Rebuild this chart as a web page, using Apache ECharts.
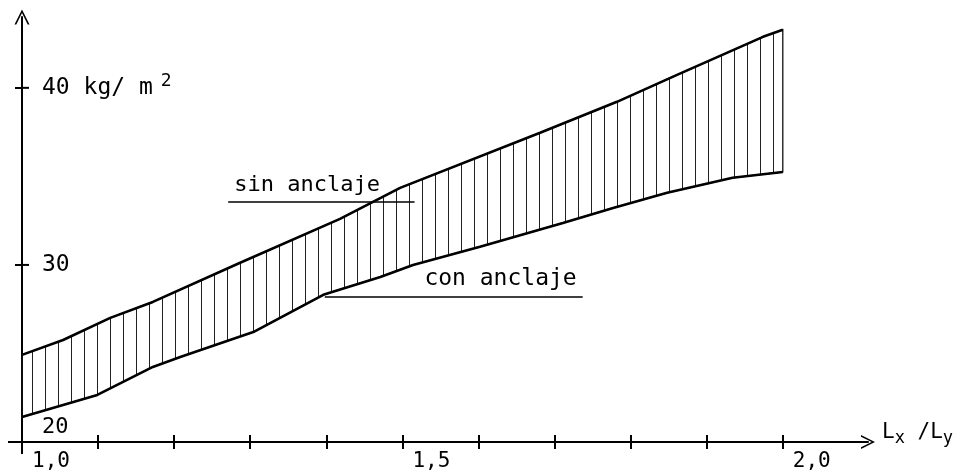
<!DOCTYPE html>
<html><head><meta charset="utf-8">
<script src="https://cdn.jsdelivr.net/npm/echarts@6/dist/echarts.min.js"></script>
<style>html,body{margin:0;padding:0;background:#fff}#c{width:967px;height:472px}</style>
</head><body><div id="c"></div>
<script>
// ---- data ----
const upperX = [1.000, 1.054, 1.116, 1.172, 1.286, 1.418, 1.497, 1.681, 1.782, 1.861, 1.974, 2.000];
const upperY = [24.92, 25.76, 27.01, 27.91, 30.11, 32.60, 34.35, 37.46, 39.21, 40.73, 42.88, 43.28];
const lowerX = [1.000, 1.099, 1.172, 1.208, 1.304, 1.396, 1.471, 1.514, 1.602, 1.711, 1.777, 1.848, 1.934, 2.000];
const lowerY = [21.41, 22.66, 24.24, 24.80, 26.21, 28.31, 29.32, 30.00, 31.02, 32.37, 33.22, 34.07, 34.92, 35.25];
const xTickValues = [1.0, 1.1, 1.2, 1.3, 1.4, 1.5, 1.6, 1.7, 1.8, 1.9, 2.0];
const xLabelValues = [1.0, 1.5, 2.0];
const yTickValues = [30, 40];
const yLabelValues = [20, 30, 40];
const sinText = 'sin anclaje';
const sinLineX = [1.271, 1.516];
const sinLineY = 33.56;
const conText = 'con anclaje';
const conLineX = [1.398, 1.737];
const conLineY = 28.19;

// ---- styling ----
const FONT = 'DejaVu Sans Mono';
const hatch = document.createElement('canvas');
hatch.width = 13; hatch.height = 4;
const hctx = hatch.getContext('2d');
hctx.fillStyle = '#222';
hctx.fillRect(6, 0, 1, 4);
const chevron = 'path://M5,0L10,10L8.8,10L5,2.4L1.2,10L0,10Z';

const upperData = upperX.map((x, i) => [x, upperY[i]]);
const lowerData = lowerX.map((x, i) => [x, lowerY[i]]);

const chart = echarts.init(document.getElementById('c'), null, {renderer: 'canvas'});
const xMin = 1.0, xMax = 2.112, yMin = 20, yMax = 44;

const option = {
  animation: false,
  backgroundColor: '#fff',
  grid: {left: 22, right: 99, top: 17, bottom: 30, containLabel: false},
  xAxis: [{
    type: 'value', min: xMin, max: xMax, position: 'bottom',
    name: '{L|L}{s|x}{L| /L}{s|y}', nameLocation: 'end', nameGap: 14,
    nameTextStyle: {padding: [0, 0, 18, 0], rich: {
      L: {fontFamily: FONT, fontSize: 21, color: '#000'},
      s: {fontFamily: FONT, fontSize: 17, color: '#000', padding: [12, 0, 0, 0]}
    }},
    axisLine: {show: true, lineStyle: {color: '#000', width: 2}, symbol: ['none', chevron], symbolSize: [14, 14]},
    axisTick: {show: true, length: 7, lineStyle: {color: '#000', width: 2}, customValues: xTickValues},
    axisLabel: {show: true, customValues: xLabelValues, align: 'left', margin: 9, padding: [0, 0, 0, 10],
      fontFamily: FONT, fontSize: 21, color: '#000',
      formatter: v => v.toFixed(1).replace('.', ',')},
    splitLine: {show: false}
  }, {
    type: 'value', min: xMin, max: xMax, position: 'bottom', offset: 0,
    axisLine: {show: false},
    axisTick: {show: true, inside: true, length: 7, lineStyle: {color: '#000', width: 2}, customValues: xTickValues},
    axisLabel: {show: false}, splitLine: {show: false}
  }],
  yAxis: {
    type: 'value', min: yMin, max: yMax, position: 'left',
    axisLine: {show: true, lineStyle: {color: '#000', width: 2}, symbol: ['none', chevron], symbolSize: [15, 16]},
    axisTick: {show: true, length: 7, lineStyle: {color: '#000', width: 2}, customValues: yTickValues},
    axisLabel: {show: true, inside: true, margin: 20, customValues: yLabelValues,
      formatter: v => v === 40 ? '{n|40 kg/ m}{sup|2}' : (v === 20 ? '{low|20}' : '{n|30}'),
      rich: {
        n: {fontFamily: FONT, fontSize: 23, color: '#000'},
        sup: {fontFamily: FONT, fontSize: 18, color: '#000', padding: [0, 0, 14, 8]},
        low: {fontFamily: FONT, fontSize: 22, color: '#000', padding: [0, 0, 30, 0]}
      }},
    splitLine: {show: false}
  },
  series: [{
    type: 'custom', xAxisIndex: 0, yAxisIndex: 0, silent: true, z: 1,
    data: [[xMin, yMin]],
    renderItem: function (params, api) {
      const pts = upperData.map(p => api.coord(p)).concat(lowerData.slice().reverse().map(p => api.coord(p)));
      return {type: 'polygon', shape: {points: pts},
        style: {fill: {image: hatch, repeat: 'repeat'}, stroke: '#111', lineWidth: 1.3}};
    }
  }, {
    type: 'line', name: 'sin anclaje', xAxisIndex: 0, yAxisIndex: 0, data: upperData,
    symbol: 'none', z: 3, lineStyle: {color: '#000', width: 2.6},
    markLine: {silent: true, symbol: ['none', 'none'], animation: false,
      lineStyle: {type: 'solid', color: '#000', width: 1.5},
      label: {show: true, position: 'insideStartTop', distance: 6, formatter: sinText,
        fontFamily: FONT, fontSize: 22, color: '#000'},
      data: [[{coord: [sinLineX[0], sinLineY]}, {coord: [sinLineX[1], sinLineY]}]]}
  }, {
    type: 'line', name: 'con anclaje', xAxisIndex: 0, yAxisIndex: 0, data: lowerData,
    symbol: 'none', z: 3, lineStyle: {color: '#000', width: 2.6},
    markLine: {silent: true, symbol: ['none', 'none'], animation: false,
      lineStyle: {type: 'solid', color: '#000', width: 1.5},
      label: {show: true, position: 'insideEndTop', distance: 6, formatter: conText,
        fontFamily: FONT, fontSize: 23, color: '#000'},
      data: [[{coord: [conLineX[0], conLineY]}, {coord: [conLineX[1], conLineY]}]]}
  }]
};
chart.setOption(option);

const o = chart.convertToPixel({xAxisIndex: 0, yAxisIndex: 0}, [xMin, yMin]);
const lineStyle = {stroke: '#000', lineWidth: 2};
const graphics = [
  {type: 'line', silent: true, shape: {x1: o[0] - 14, y1: o[1], x2: o[0], y2: o[1]}, style: lineStyle},
  {type: 'line', silent: true, shape: {x1: o[0], y1: o[1], x2: o[0], y2: o[1] + 12}, style: lineStyle}
];
yTickValues.forEach(v => {
  const p = chart.convertToPixel({xAxisIndex: 0, yAxisIndex: 0}, [xMin, v]);
  graphics.push({type: 'line', silent: true, shape: {x1: p[0], y1: p[1], x2: p[0] + 7, y2: p[1]}, style: lineStyle});
});
chart.setOption({graphic: graphics});
</script>
</body></html>
